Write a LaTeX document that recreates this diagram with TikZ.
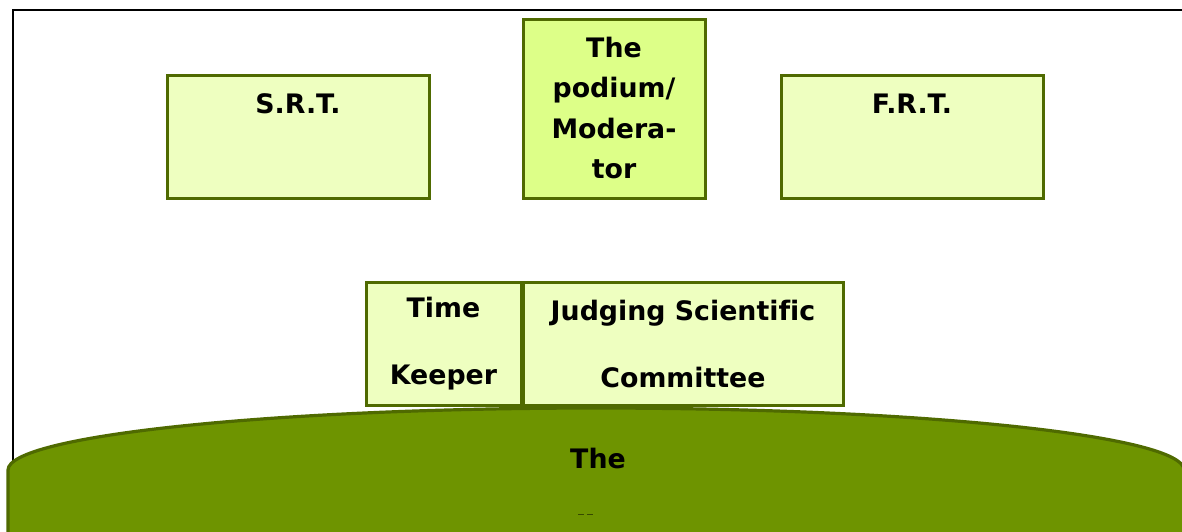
\documentclass[tikz,border=0pt]{standalone}
\usepackage{fontspec}
\setmainfont[Ligatures=NoCommon]{DejaVu Sans}
\definecolor{boxfill}{RGB}{238,255,192}
\definecolor{podfill}{RGB}{221,255,136}
\definecolor{edgegreen}{RGB}{79,106,0}
\definecolor{hillgreen}{RGB}{110,148,0}
\tikzset{
  seatbox/.style={draw=edgegreen, line width=3pt, fill=boxfill, rectangle, inner sep=0pt},
  lbl/.style={font=\bfseries\fontsize{26.8}{30}\selectfont, align=center, text=black, inner sep=0pt},
}
\begin{document}
\begin{tikzpicture}[x=1pt,y=1pt]
\useasboundingbox (0,0) rectangle (1182,-531);
\clip (0,0) rectangle (1182,-531);
% frame
\draw[line width=2.2pt] (13,-531) -- (13,-10) -- (1190,-10);
% boxes
\node[seatbox, minimum width=262pt, minimum height=123pt] (srt) at (298,-137) {};
\node[lbl] (srtl) at (298,-104) {S.R.T.};
\node[seatbox, fill=podfill, minimum width=182pt, minimum height=179pt] (pod) at (614,-109) {};
\node[lbl, font=\bfseries\fontsize{26.8}{40.3}\selectfont] (podl) at (614,-108) {The\\podium/\\Modera-\\tor};
\node[seatbox, minimum width=262pt, minimum height=123pt] (frt) at (912,-137) {};
\node[lbl] (frtl) at (912,-104) {F.R.T.};
\node[seatbox, minimum width=155pt, minimum height=123pt] (tk) at (443.5,-343.5) {};
\node[lbl, font=\bfseries\fontsize{26.8}{67}\selectfont] (tkl) at (443.5,-344) {Time\\Keeper};
\node[seatbox, minimum width=320pt, minimum height=123pt] (jsc) at (683,-343.5) {};
\node[lbl, font=\bfseries\fontsize{26.8}{67}\selectfont] (jscl) at (683,-344) {Judging Scientific\\Committee};
% audience hill
\draw[draw=edgegreen, line width=3.2pt, fill=hillgreen] (8,-545) -- (8,-470) arc[start angle=180, end angle=0, x radius=588, y radius=62] -- (1184,-545);
\node[lbl] (aud) at (598,-458) {The};
\draw[edgegreen!70!black, line width=1pt] (578,-514) -- (584,-514) (587,-514) -- (593,-514);
\end{tikzpicture}
\end{document}
